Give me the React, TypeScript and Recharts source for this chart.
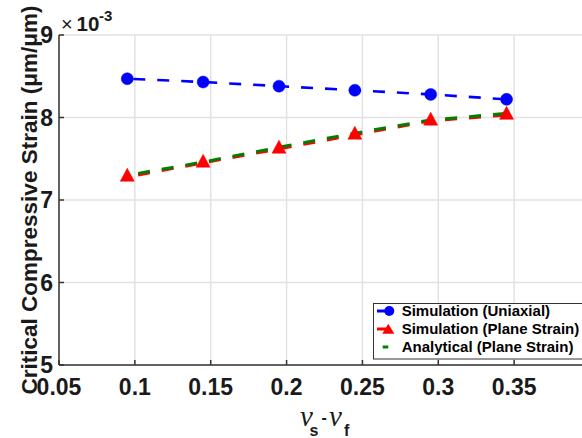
import { CartesianGrid, Legend, Line, LineChart, XAxis, YAxis } from "recharts";

// Poisson ratio mismatch (nu_s - nu_f)
const nuDiff = [0.095, 0.145, 0.195, 0.245, 0.295, 0.345];
// critical compressive strain, x1e-3
const uniaxialSim = [8.47, 8.43, 8.38, 8.33, 8.28, 8.22];
const planeStrainSim = [7.28, 7.45, 7.62, 7.79, 7.96, 8.03];
const planeStrainAnalytical = [7.3, 7.46, 7.64, 7.81, 7.97, 8.05];

const xTicks = [0.05, 0.1, 0.15, 0.2, 0.25, 0.3, 0.35];
const yTicks = [5, 6, 7, 8, 9];

const seriesOrder = ["uniaxial", "planeSim", "analytical"];
const seriesNames: Record<string, string> = {
  uniaxial: "Simulation (Uniaxial)",
  planeSim: "Simulation (Plane Strain)",
  analytical: "Analytical (Plane Strain)",
};

const data = nuDiff.map((x, i) => ({
  x,
  uniaxial: uniaxialSim[i],
  planeSim: planeStrainSim[i],
  analytical: planeStrainAnalytical[i],
}));

const FONT = "'Liberation Sans', Arial, sans-serif";
const SERIF = "'Liberation Serif', 'Times New Roman', serif";
const AXIS = "#333333";
const TEXT = "#1a1a1a";
const BLUE = "#0000ff";
const RED = "#ff0000";
const GREEN = "#008000";

function triPath(cx: number, cy: number, w: number, h: number) {
  // centroid sits on the data point
  return `M${cx},${cy - (2 * h) / 3} L${cx + w / 2},${cy + h / 3} L${cx - w / 2},${cy + h / 3} Z`;
}

function TriangleDot(props: any) {
  const { cx, cy, index } = props;
  if (cx == null || cy == null) return null;
  return <path key={`tri-${index}`} d={triPath(cx, cy, 14, 13)} fill={RED} stroke={RED} strokeWidth={0.5} />;
}

function LegendBox({ payload }: any) {
  const items = [...(payload ?? [])].sort(
    (a: any, b: any) => seriesOrder.indexOf(a.dataKey) - seriesOrder.indexOf(b.dataKey)
  );
  return (
    <svg width={225} height={57} style={{ display: "block" }}>
      <rect x={0.5} y={0.5} width={224} height={55.5} fill="#fff" stroke={AXIS} strokeWidth={1} />
      {items.map((item: any, i: number) => {
        const cy = 8 + i * 18;
        let icon = null;
        if (item.dataKey === "uniaxial") {
          icon = (
            <g>
              <line x1={4} x2={16} y1={cy} y2={cy} stroke={BLUE} strokeWidth={3} />
              <circle cx={16.3} cy={cy} r={5} fill={BLUE} />
            </g>
          );
        } else if (item.dataKey === "planeSim") {
          icon = (
            <g>
              <line x1={4} x2={14} y1={cy} y2={cy} stroke={RED} strokeWidth={3} />
              <path d={triPath(15.3, cy + 1.5, 12, 10)} fill={RED} />
            </g>
          );
        } else {
          icon = <line x1={9.7} x2={15.3} y1={cy} y2={cy} stroke={GREEN} strokeWidth={3} />;
        }
        return (
          <g key={item.dataKey}>
            {icon}
            <text x={28.7} y={cy + 5.3} fontFamily={FONT} fontWeight="bold" fontSize={15} fill="#000">
              {item.value}
            </text>
          </g>
        );
      })}
    </svg>
  );
}

export default function App() {
  return (
    <div
      style={{
        position: "absolute",
        left: 0,
        top: 0,
        width: 582,
        height: 438,
        overflow: "hidden",
        background: "#fff",
      }}
    >
      <LineChart width={640} height={438} data={data} margin={{ top: 35, right: 50, left: 0, bottom: 43 }}>
        <CartesianGrid stroke="#e2e2e2" strokeWidth={1.5} />
        <XAxis
          dataKey="x"
          type="number"
          domain={[0.05, 0.4]}
          ticks={xTicks}
          interval={0}
          height={30}
          tickSize={-5}
          tickMargin={19}
          tickLine={{ stroke: AXIS, strokeWidth: 1.5 }}
          axisLine={{ stroke: AXIS, strokeWidth: 1.5 }}
          tick={{ fill: TEXT, fontSize: 23, fontWeight: "bold", fontFamily: FONT }}
        />
        <XAxis
          xAxisId="top"
          orientation="top"
          dataKey="x"
          type="number"
          domain={[0.05, 0.4]}
          ticks={xTicks}
          interval={0}
          height={0}
          tickSize={-5}
          tick={false}
          tickLine={{ stroke: AXIS, strokeWidth: 1.5 }}
          axisLine={{ stroke: AXIS, strokeWidth: 1.5 }}
        />
        <YAxis
          type="number"
          domain={[5, 9]}
          ticks={yTicks}
          interval={0}
          width={59}
          tickSize={-5}
          tickMargin={11}
          tickLine={{ stroke: AXIS, strokeWidth: 1.5 }}
          axisLine={{ stroke: AXIS, strokeWidth: 1.5 }}
          tick={{ fill: TEXT, fontSize: 23, fontWeight: "bold", fontFamily: FONT }}
        />
        <Line
          dataKey="uniaxial"
          name={seriesNames.uniaxial}
          type="linear"
          stroke={BLUE}
          strokeWidth={2.6}
          strokeDasharray="12 12"
          strokeDashoffset={18}
          dot={{ r: 6, fill: BLUE, stroke: BLUE, strokeWidth: 0.5, strokeDasharray: "" }}
          activeDot={false}
          isAnimationActive={false}
        />
        <Line
          dataKey="planeSim"
          name={seriesNames.planeSim}
          type="linear"
          stroke={RED}
          strokeWidth={3}
          strokeDasharray="12 12"
          strokeDashoffset={13}
          dot={TriangleDot}
          activeDot={false}
          isAnimationActive={false}
        />
        <Line
          dataKey="analytical"
          name={seriesNames.analytical}
          type="linear"
          stroke={GREEN}
          strokeWidth={3}
          strokeDasharray="12 12"
          strokeDashoffset={13}
          dot={false}
          activeDot={false}
          isAnimationActive={false}
        />
        <Legend
          layout="vertical"
          align="center"
          verticalAlign="middle"
          content={LegendBox}
          wrapperStyle={{ left: 373, top: 303, width: 225, height: 57 }}
        />
      </LineChart>
      <svg
        width={582}
        height={438}
        style={{ position: "absolute", left: 0, top: 0, pointerEvents: "none" }}
      >
        <text
          transform="translate(36.5,200) rotate(-90)"
          textAnchor="middle"
          fontFamily={FONT}
          fontWeight="bold"
          fontSize={22.5}
          fill={TEXT}
        >
          Critical Compressive Strain (μm/μm)
        </text>
        <text y={30.7} fill={TEXT} fontFamily={FONT}>
          <tspan x={61} fontSize={20}>
            ×
          </tspan>
          <tspan x={76.5} fontSize={20.5} fontWeight="bold">
            10
          </tspan>
          <tspan x={99} dy={-9.5} fontSize={15} fontWeight="bold">
            -3
          </tspan>
        </text>
        <text fill={TEXT}>
          <tspan x={300} y={426} fontFamily={SERIF} fontStyle="italic" fontSize={29}>
            ν
          </tspan>
          <tspan x={309.5} y={435.5} fontFamily={FONT} fontWeight="bold" fontSize={16}>
            s
          </tspan>
          <tspan x={321.5} y={423} fontFamily={FONT} fontWeight="bold" fontSize={16}>
            -
          </tspan>
          <tspan x={329} y={426} fontFamily={SERIF} fontStyle="italic" fontSize={29}>
            ν
          </tspan>
          <tspan x={344} y={435.5} fontFamily={FONT} fontWeight="bold" fontSize={16}>
            f
          </tspan>
        </text>
      </svg>
    </div>
  );
}
